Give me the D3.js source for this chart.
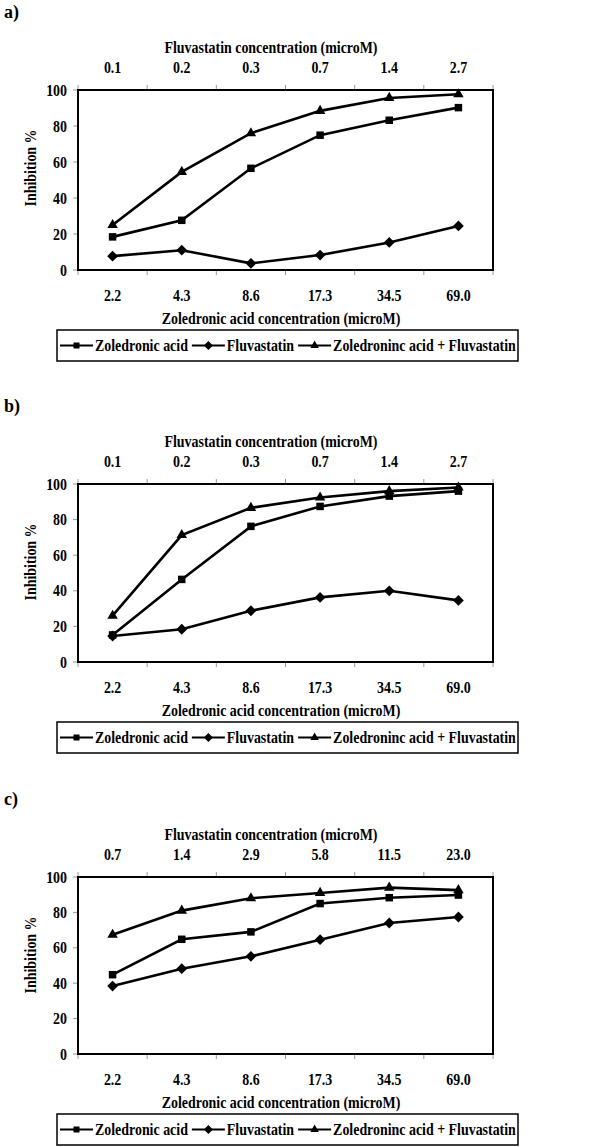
<!DOCTYPE html>
<html>
<head>
<meta charset="utf-8">
<script src="https://cdn.jsdelivr.net/npm/d3@7"></script>
<style>
  body { margin: 0; background: #fff; }
  svg text { font-family: "Liberation Serif", "Times New Roman", serif; font-weight: bold; font-size: 16px; fill: #000; }
</style>
</head>
<body>
<svg id="chart" width="600" height="1147"></svg>
<script>
// tick labels
var zolConc = ["2.2", "4.3", "8.6", "17.3", "34.5", "69.0"];
var fluvConcAB = ["0.1", "0.2", "0.3", "0.7", "1.4", "2.7"];
var fluvConcC = ["0.7", "1.4", "2.9", "5.8", "11.5", "23.0"];
var yTicks = [0, 20, 40, 60, 80, 100];
var seriesNames = ["Zoledronic acid", "Fluvastatin", "Zoledroninc acid + Fluvastatin"];
var markers = ["square", "diamond", "triangle"];

// inhibition %
var zolA   = [18.4, 27.6, 56.5, 74.9, 83.2, 90.2];
var fluvA  = [7.7, 11.0, 3.7, 8.3, 15.3, 24.5];
var comboA = [25.0, 54.5, 76.0, 88.4, 95.6, 97.6];

var zolB   = [15.2, 46.4, 76.2, 87.4, 93.2, 96.0];
var fluvB  = [14.6, 18.4, 28.8, 36.3, 40.0, 34.6];
var comboB = [26.0, 71.3, 86.6, 92.4, 96.0, 98.0];

var zolC   = [44.8, 64.8, 69.0, 85.0, 88.3, 89.8];
var fluvC  = [38.4, 48.2, 55.2, 64.6, 74.0, 77.4];
var comboC = [67.4, 81.0, 88.0, 91.0, 94.0, 92.6];

var panels = [
  { label: "a)", top: 90,  h: 180, fluv: fluvConcAB, series: [zolA, fluvA, comboA] },
  { label: "b)", top: 484, h: 178, fluv: fluvConcAB, series: [zolB, fluvB, comboB] },
  { label: "c)", top: 877, h: 177, fluv: fluvConcC,  series: [zolC, fluvC, comboC] }
];

var svg = d3.select("#chart");
var left = 78, right = 493;
var squeeze = 0.87;   // the original type is a little condensed

function label(g, x, y, txt, anchor) {
  return g.append("text")
    .attr("transform", "translate(" + x + "," + y + ") scale(" + squeeze + ",1)")
    .attr("dy", "0.35em").attr("text-anchor", anchor || "middle").text(txt);
}

function markerPath(type, s) {
  if (type == "square") return d3.symbol().type(d3.symbolSquare).size(s * s)();
  if (type == "diamond") return "M0," + (-s) + "L" + s + ",0L0," + s + "L" + (-s) + ",0Z";
  return d3.symbol().type(d3.symbolTriangle).size(s * s * 0.433)();
}
var markSize = [7.5, 5.4, 10.5];
var legSize = [6, 4.5, 8.5];

panels.forEach(function (p) {
  var g = svg.append("g");
  var bottom = p.top + p.h;

  var x = d3.scaleBand().domain(zolConc).range([left, right]);
  var xTop = d3.scaleBand().domain(p.fluv).range([left, right]);
  var y = d3.scaleLinear().domain([0, 100]).range([bottom, p.top]);

  // panel letter
  g.append("text").attr("x", 4).attr("y", p.top - 72).style("font-size", "18px").text(p.label);

  // gray tick marks at band edges and y ticks
  var edges = zolConc.map(function (d) { return x(d); }).concat([right]);
  g.selectAll(".tb").data(edges).enter().append("line")
    .attr("x1", function (d) { return d; }).attr("x2", function (d) { return d; })
    .attr("y1", bottom).attr("y2", bottom + 5)
    .attr("stroke", "#999").attr("stroke-width", 1);
  g.selectAll(".tt").data(edges).enter().append("line")
    .attr("x1", function (d) { return d; }).attr("x2", function (d) { return d; })
    .attr("y1", p.top).attr("y2", p.top - 5)
    .attr("stroke", "#999").attr("stroke-width", 1);
  g.selectAll(".ty").data(yTicks).enter().append("line")
    .attr("x1", left - 5).attr("x2", left)
    .attr("y1", function (d) { return y(d); }).attr("y2", function (d) { return y(d); })
    .attr("stroke", "#999").attr("stroke-width", 1);

  // frame
  g.append("rect").attr("x", left).attr("y", p.top).attr("width", right - left).attr("height", p.h)
    .attr("fill", "none").attr("stroke", "#000").attr("stroke-width", 2);

  // tick labels
  yTicks.forEach(function (d) { label(g, 67, y(d), d, "end"); });
  zolConc.forEach(function (d) { label(g, x(d) + x.bandwidth() / 2, bottom + 25, d); });
  p.fluv.forEach(function (d) { label(g, xTop(d) + xTop.bandwidth() / 2, p.top - 23, d); });

  // axis titles
  label(g, 271, p.top - 43, "Fluvastatin concentration (microM)");
  label(g, 281, bottom + 48, "Zoledronic acid concentration (microM)");
  g.append("text").attr("transform", "translate(30," + (p.top + 78) + ") rotate(-90) scale(" + squeeze + ",1)")
    .attr("dy", "0.35em").attr("text-anchor", "middle").text("Inhibition %");

  // lines and markers
  var line = d3.line()
    .x(function (d, i) { return x(zolConc[i]) + x.bandwidth() / 2; })
    .y(function (d) { return y(d); });

  p.series.forEach(function (s, k) {
    g.append("path").datum(s).attr("d", line)
      .attr("fill", "none").attr("stroke", "#000").attr("stroke-width", 2.6);
    g.selectAll(".m" + k).data(s).enter().append("path")
      .attr("transform", function (d, i) { return "translate(" + (x(zolConc[i]) + x.bandwidth() / 2) + "," + y(d) + ")"; })
      .attr("d", markerPath(markers[k], markSize[k]))
      .attr("fill", "#000");
  });

  // legend
  var ly = bottom + 60;
  var leg = g.append("g");
  leg.append("rect").attr("x", 57).attr("y", ly).attr("width", 461).attr("height", 31)
    .attr("fill", "#fff").attr("stroke", "#000").attr("stroke-width", 1.5);
  var lx = 60;
  seriesNames.forEach(function (name, k) {
    var cy = ly + 15.5;
    leg.append("line").attr("x1", lx).attr("x2", lx + 33).attr("y1", cy).attr("y2", cy)
      .attr("stroke", "#000").attr("stroke-width", 2.2);
    leg.append("path").attr("transform", "translate(" + (lx + 16.5) + "," + cy + ")")
      .attr("d", markerPath(markers[k], legSize[k])).attr("fill", "#000");
    var t = label(leg, lx + 35, cy, name, "start");
    lx = lx + 35 + t.node().getComputedTextLength() * squeeze + 4;
  });
});
</script>
</body>
</html>
